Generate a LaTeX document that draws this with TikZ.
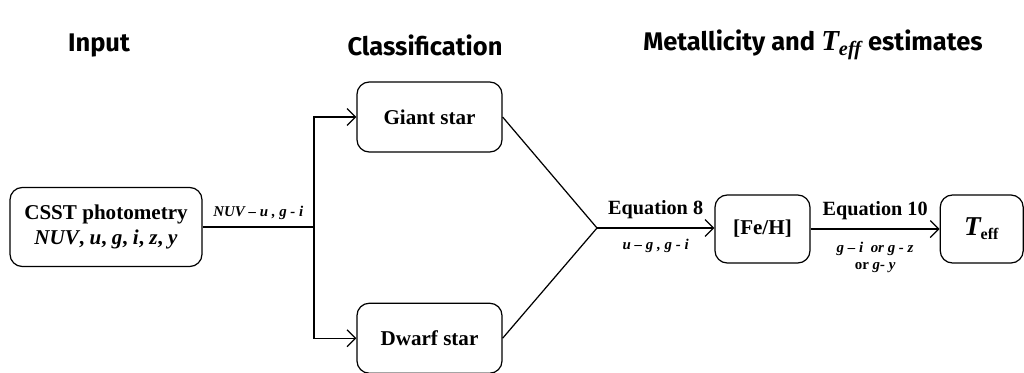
\documentclass[tikz,border=0pt]{standalone}
\usepackage{fontspec}
\setmainfont{Liberation Serif}
\newfontfamily\headfont{Fira Sans}
\usetikzlibrary{positioning, arrows.meta}

\begin{document}
\begin{tikzpicture}[font=\bfseries\fontsize{12}{14}\selectfont, >={Straight Barb[length=1.7mm, width=3.4mm]}, line width=0.7pt,
  box/.style={draw, rounded corners=7pt, align=center, minimum width=2.9cm, minimum height=1.4cm, inner sep=2pt},
  hd/.style={font=\headfont\bfseries\fontsize{14.5}{16}\selectfont},
  lbl/.style={font=\bfseries\itshape\fontsize{8.5}{10}\selectfont, inner sep=1pt, align=center},
  eq/.style={font=\bfseries\fontsize{11.5}{13}\selectfont, inner sep=1pt}]
  \useasboundingbox (0,0) rectangle (20.48,-7.44);
  % column headers
  \node[hd] (hin) at (1.98,-0.9) {Input};
  \node[hd] (hcl) at (8.5,-0.9) {Classification};
  \node[hd] (hme) at (16.26,-0.9) {Metallicity and {\rmfamily\itshape\fontsize{16.5}{17}\selectfont T\textsubscript{eff}} estimates};
  % boxes
  \node[box, minimum width=3.84cm, minimum height=1.58cm] (csst) at (2.12,-4.54) {CSST photometry\\ \textit{NUV}, \textit{u}, \textit{g}, \textit{i}, \textit{z}, \textit{y}};
  \node[box] (giant) at (8.59,-2.34) {Giant star};
  \node[box, below=3.0cm of giant] (dwarf) {Dwarf star};
  \node[box, minimum width=1.9cm, minimum height=1.36cm] (feh) at (15.25,-4.58) {[Fe/H]};
  \node[box, minimum width=1.66cm, minimum height=1.36cm, right=2.58cm of feh] (teff) {{\fontsize{15.5}{17}\selectfont\itshape T}{\fontsize{13}{15}\selectfont\textsubscript{eff}}};
  \coordinate (split) at (6.28,-4.54);
  \coordinate (apex) at (11.94,-4.56);
  % connectors
  \draw (csst.east) -- node[lbl, above=3pt]{NUV – u , g - i} (split);
  \draw[->] (split) |- (giant.west);
  \draw[->] (split) |- (dwarf.west);
  \draw (giant.east) -- (apex) -- (dwarf.east);
  \draw[->] (apex) -- node[eq, above=4pt]{Equation 8} node[lbl, below=5pt]{u – g , g - i} (feh.west |- apex);
  \draw[->] (feh.east) -- node[eq, above=4pt]{Equation 10} node[lbl, below=6pt]{g – i~~or g - z\\ \upshape or \itshape g- y} (teff.west);
\end{tikzpicture}
\end{document}
